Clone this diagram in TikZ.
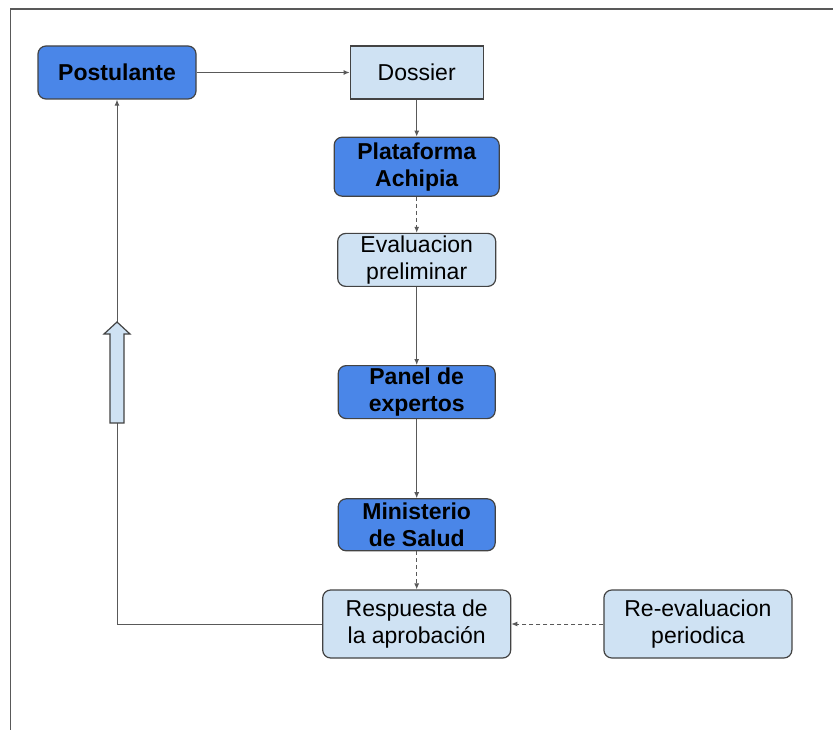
\documentclass[tikz,border=0pt]{standalone}
\usepackage{fontspec}
\setmainfont{Liberation Sans}
\usepackage{tikz}
\usetikzlibrary{positioning,arrows.meta}
\definecolor{boxblue}{HTML}{4A86E8}
\definecolor{paleblue}{HTML}{CFE2F3}
\definecolor{edgegray}{HTML}{434343}
\definecolor{linegray}{HTML}{595959}

\begin{document}
\begin{tikzpicture}[
    x=1pt, y=-1pt,
    font=\fontsize{23}{27}\selectfont,
    base/.style={draw=edgegray, line width=1.2pt, align=center, inner sep=2pt,
                 text=black},
    dark/.style={base, fill=boxblue, rounded corners=8pt, font=\fontsize{23}{27}\selectfont\bfseries},
    light/.style={base, fill=paleblue, rounded corners=8pt},
    plain/.style={base, fill=paleblue},
    arr/.style={-{Latex[length=6pt,width=5pt]}, draw=linegray, line width=1pt},
    darr/.style={arr, dash pattern=on 4pt off 3pt},
    blockarr/.style={draw=edgegray, line width=1.2pt, fill=paleblue}
]
\useasboundingbox (0,0) rectangle (833,730);
% frame
\draw[linegray, line width=1.2pt] (833,9) -- (10.5,9) -- (10.5,730);

\node[dark, minimum width=158pt, minimum height=53pt] (post) at (117,72.5) {Postulante};
\node[plain, minimum width=133pt, minimum height=53pt, right=153pt of post] (dossier) {Dossier};
\node[dark, minimum width=165pt, minimum height=59pt, below=37pt of dossier] (plat) {Plataforma\\Achipia};
\node[light, minimum width=158pt, minimum height=53pt, below=36pt of plat] (eval) {Evaluacion\\preliminar};
\node[dark, minimum width=157pt, minimum height=53pt, below=78pt of eval] (panel) {Panel de\\expertos};
\node[dark, minimum width=157pt, minimum height=52pt, below=79pt of panel] (minsal) {Ministerio\\de Salud};
\node[light, minimum width=188pt, minimum height=68pt, below=38pt of minsal] (resp) {Respuesta de\\la aprobación};
\node[light, minimum width=188pt, minimum height=68pt, right=92pt of resp] (reeval) {Re-evaluacion\\periodica};

\draw[arr] (post) -- (dossier);
\draw[arr] (dossier) -- (plat);
\draw[darr] (plat) -- (eval);
\draw[arr] (eval) -- (panel);
\draw[arr] (panel) -- (minsal);
\draw[darr] (minsal) -- (resp);
\draw[darr] (reeval) -- (resp);
\draw[arr] (resp.west) -| (post.south);

% block arrow on the return line
\draw[blockarr] (110,423) -- (110,334) -- (104,334) -- (117,322) -- (130,334)
    -- (124,334) -- (124,423) -- cycle;
\end{tikzpicture}
\end{document}
